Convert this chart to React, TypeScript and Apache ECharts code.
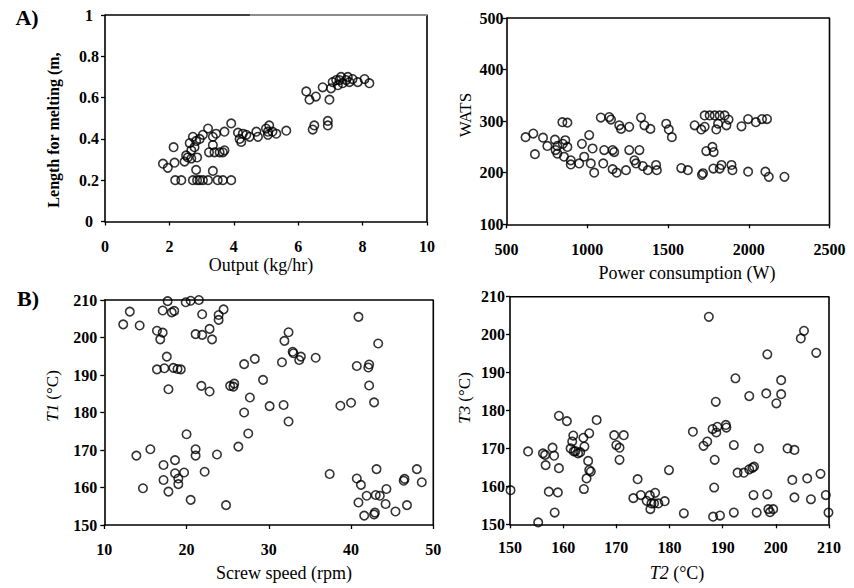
import React, { useEffect, useRef } from 'react';
import * as echarts from 'echarts';

const FONT = 'Liberation Serif, Times New Roman, serif';

// Panel A-left: Output (kg/hr) vs Length for melting (m)
const meltData: [number, number][] = [
  [1.8, 0.28], [1.95, 0.26], [2.13, 0.36], [2.16, 0.285], [2.18, 0.2], [2.37, 0.2], [2.47, 0.29], [2.52, 0.32],
  [2.57, 0.31], [2.63, 0.38], [2.68, 0.345], [2.68, 0.305], [2.73, 0.41], [2.78, 0.36], [2.83, 0.39], [2.86, 0.31],
  [2.83, 0.25], [2.73, 0.2], [2.86, 0.2], [2.94, 0.2], [3.04, 0.2], [3.2, 0.2], [2.94, 0.4], [3.04, 0.42],
  [3.2, 0.45], [3.23, 0.335], [3.35, 0.41], [3.35, 0.37], [3.4, 0.335], [3.35, 0.245], [3.5, 0.2], [3.56, 0.335],
  [3.45, 0.425], [3.66, 0.335], [3.66, 0.2], [3.71, 0.345], [3.71, 0.435], [3.92, 0.475], [3.92, 0.2], [4.13, 0.43],
  [4.18, 0.4], [4.23, 0.385], [4.28, 0.425], [4.39, 0.42], [4.49, 0.41], [4.7, 0.435], [4.75, 0.41], [5.0, 0.45],
  [5.06, 0.435], [5.06, 0.42], [5.1, 0.465], [5.2, 0.435], [5.32, 0.425], [5.63, 0.44], [6.25, 0.63], [6.35, 0.59],
  [6.55, 0.605], [6.45, 0.445], [6.5, 0.465], [6.92, 0.487], [6.92, 0.465], [6.76, 0.65], [6.97, 0.59], [7.02, 0.645],
  [7.07, 0.675], [7.18, 0.685], [7.28, 0.685], [7.38, 0.67], [7.49, 0.685], [7.54, 0.7], [7.59, 0.675], [7.69, 0.69],
  [7.85, 0.675], [8.06, 0.69], [8.21, 0.67], [7.23, 0.66], [7.33, 0.7],
];

// Panel A-right: Power consumption (W) vs WATS
const powerData: [number, number][] = [
  [618, 269], [666, 276], [676, 236], [726, 268], [753, 252], [800, 264], [804, 244], [815, 252], [815, 237],
  [846, 298], [877, 297], [849, 256], [864, 263], [877, 250], [856, 231], [898, 224], [898, 216], [950, 218],
  [967, 256], [981, 231], [1012, 273], [1022, 218], [1033, 247], [1043, 200], [1084, 307], [1105, 244], [1099, 218],
  [1136, 308], [1147, 303], [1157, 244], [1167, 240], [1157, 207], [1182, 200], [1198, 292], [1209, 285], [1240, 205],
  [1260, 289], [1260, 244], [1292, 224], [1302, 218], [1323, 244], [1333, 307], [1344, 213], [1354, 292], [1375, 205],
  [1391, 285], [1426, 215], [1431, 205], [1489, 295], [1505, 284], [1524, 269], [1582, 209], [1623, 205], [1665, 292],
  [1706, 284], [1717, 199], [1727, 289], [1727, 311], [1737, 242], [1758, 311], [1775, 250], [1783, 240], [1781, 208],
  [1789, 311], [1799, 284], [1810, 295], [1820, 311], [1820, 208], [1831, 215], [1851, 311], [1862, 292], [1875, 303],
  [1893, 215], [1899, 205], [1955, 290], [1996, 304], [1996, 202], [2044, 298], [2082, 304], [2113, 304], [2103, 202],
  [2124, 192], [2221, 192], [1710, 196],
];

// Panel B-left: Screw speed (rpm) vs T1 (°C)
const screwData: [number, number][] = [
  [12.3, 203.5], [13.1, 206.9], [14.3, 203.2], [13.9, 168.5], [14.7, 159.8], [15.6, 170.2], [16.4, 201.8], [16.4, 191.5],
  [16.8, 199.5], [17.1, 201.3], [17.1, 207.2], [17.2, 166.0], [17.2, 162.0], [17.3, 191.8], [17.6, 194.9], [17.7, 209.7],
  [17.8, 186.2], [17.8, 158.9], [18.2, 206.7], [18.5, 207.1], [18.4, 191.9], [18.6, 167.3], [18.6, 163.8], [18.9, 191.6],
  [19.0, 162.4], [19.0, 160.9], [19.3, 191.5], [19.7, 164.0], [19.9, 209.4], [20.0, 174.2], [20.5, 209.8], [20.5, 156.7],
  [21.1, 200.9], [21.1, 170.2], [21.1, 168.5], [21.5, 210.0], [21.8, 187.1], [21.9, 206.2], [21.9, 200.7], [22.2, 164.2],
  [22.8, 202.3], [22.8, 185.6], [23.1, 199.5], [23.7, 168.8], [23.9, 206.0], [23.9, 204.7], [24.5, 207.5], [24.8, 155.3],
  [25.3, 187.1], [25.7, 186.9], [25.8, 187.7], [26.3, 170.9], [27.0, 180.0], [27.0, 192.9], [27.5, 174.4], [27.7, 184.0],
  [28.3, 194.3], [29.3, 188.7], [30.1, 181.7], [31.6, 193.4], [31.8, 182.0], [31.9, 199.1], [32.4, 201.4], [32.4, 177.6],
  [32.9, 196.2], [33.0, 195.8], [33.7, 194.0], [33.9, 194.9], [35.7, 194.6], [37.4, 163.6], [38.7, 181.8], [40.0, 182.6],
  [40.7, 162.4], [40.9, 205.5], [40.7, 192.4], [40.9, 156.0], [41.2, 160.7], [41.6, 152.5], [41.9, 157.8], [42.1, 192.0],
  [42.2, 192.8], [42.2, 187.2], [42.8, 182.7], [42.8, 152.8], [42.9, 153.3], [43.0, 158.0], [43.1, 164.9], [43.3, 198.4],
  [43.5, 157.8], [44.2, 155.6], [44.3, 159.6], [45.4, 153.6], [46.4, 161.8], [46.5, 162.3], [46.8, 155.3], [48.0, 164.9],
  [48.6, 161.4],
];

// Panel B-right: T2 (°C) vs T3 (°C)
const tempData: [number, number][] = [
  [150.1, 159.0], [153.4, 169.2], [155.3, 150.5], [156.2, 168.7], [156.6, 168.3], [156.7, 165.6], [157.3, 158.6],
  [158.0, 170.2], [158.3, 168.1], [158.4, 153.1], [159.0, 158.4], [159.2, 164.8], [159.2, 178.6], [160.7, 177.2],
  [161.4, 170.0], [161.7, 171.8], [161.9, 173.4], [162.0, 169.2], [162.3, 169.3], [162.8, 168.7], [163.2, 169.0],
  [163.8, 172.8], [163.9, 159.3], [164.0, 170.5], [164.4, 162.1], [164.7, 166.7], [164.9, 174.0], [164.9, 164.3],
  [165.2, 163.9], [166.3, 177.5], [169.6, 173.5], [170.0, 170.9], [170.6, 170.2], [170.6, 167.0], [171.4, 173.5],
  [173.2, 156.9], [174.0, 161.9], [174.6, 157.7], [175.7, 156.2], [176.3, 157.6], [176.4, 154.0], [176.6, 155.5],
  [177.1, 155.5], [177.3, 158.3], [177.9, 155.5], [179.1, 156.1], [179.9, 164.3], [182.7, 152.9], [184.4, 174.4],
  [186.4, 170.7], [187.1, 171.8], [187.4, 204.7], [188.1, 175.1], [188.2, 152.0], [188.4, 159.7], [188.5, 167.0],
  [188.7, 182.3], [188.8, 174.2], [189.0, 175.7], [189.5, 152.3], [190.6, 176.2], [190.7, 175.5], [192.1, 170.9],
  [192.1, 153.1], [192.4, 188.5], [192.8, 163.6], [194.0, 163.6], [195.0, 183.8], [195.0, 164.5], [195.6, 164.9],
  [195.9, 165.2], [195.8, 157.7], [196.4, 153.1], [196.8, 170.0], [198.2, 184.5], [198.4, 194.8], [198.4, 157.9],
  [198.6, 154.0], [198.9, 153.2], [199.5, 154.0], [200.1, 181.9], [201.0, 188.0], [201.0, 184.3], [202.2, 170.0],
  [203.1, 161.7], [203.5, 169.6], [203.5, 157.1], [204.7, 199.0], [205.3, 201.0], [205.9, 162.1], [206.6, 156.6],
  [207.6, 195.2], [208.4, 163.3], [209.4, 157.7], [209.9, 153.1],
];

const axisTitles = {
  a1x: 'Output (kg/hr)',
  a1y: 'Length for melting (m,',
  a2x: 'Power consumption (W)',
  a2y: 'WATS',
  b1x: 'Screw speed (rpm)',
  b1y: '{i|T1} (°C)',
  b2x: '{i|T2} (°C)',
  b2y: '{i|T3} (°C)',
};

// axis ranges [min, max, interval]
const xRanges: [number, number, number][] = [[0, 10, 2], [500, 2500, 500], [10, 50, 10], [150, 210, 10]];
const yRanges: [number, number, number][] = [[0, 1, 0.2], [100, 500, 100], [150, 210, 10], [150, 210, 10]];

// plot boxes [left, top, width, height]
const boxes: [number, number, number, number][] = [
  [105, 15, 322, 206.5],
  [506.5, 18, 323, 206.3],
  [104.3, 300, 329, 225],
  [510, 296.7, 319, 227.6],
];

const plainNum = (v: number) => String(Math.round(v * 1000) / 1000);

const richItalic = (size: number) => ({
  i: { fontStyle: 'italic', fontFamily: FONT, fontSize: size, color: '#000' },
});

function xAx(i: number, margin: number, extra: any = {}) {
  const [min, max, interval] = xRanges[i];
  return {
    type: 'value', gridIndex: i, min, max, interval, position: 'bottom',
    axisLine: { show: true, onZero: false, lineStyle: { color: '#000', width: 1.6 } },
    axisTick: { show: true, inside: false, length: 4, lineStyle: { color: '#000', width: 1.3 } },
    splitLine: { show: false },
    axisLabel: { color: '#000', fontFamily: FONT, fontWeight: 'bold', fontSize: 16, margin, formatter: plainNum },
    ...extra,
  };
}
function yAx(i: number, margin: number, align: string, extra: any = {}) {
  const [min, max, interval] = yRanges[i];
  return {
    type: 'value', gridIndex: i, min, max, interval, position: 'left',
    axisLine: { show: true, onZero: false, lineStyle: { color: '#000', width: 1.6 } },
    axisTick: { show: true, inside: false, length: 4, lineStyle: { color: '#000', width: 1.3 } },
    splitLine: { show: false },
    axisLabel: { color: '#000', fontFamily: FONT, fontWeight: 'bold', fontSize: 16, margin, align, formatter: plainNum },
    ...extra,
  };
}
function scat(i: number, data: [number, number][]) {
  return {
    type: 'scatter', xAxisIndex: i, yAxisIndex: i, data,
    symbol: 'circle', symbolSize: 8.5,
    itemStyle: { color: 'rgba(0,0,0,0)', borderColor: '#000', borderWidth: 1.6 },
    silent: true, z: 3,
  };
}
// top and right border of each plot, drawn through the axes' own scales
function frame(i: number) {
  const [x0, x1] = xRanges[i];
  const [y0, y1] = yRanges[i];
  return {
    type: 'line', xAxisIndex: i, yAxisIndex: i, silent: true, clip: false, z: 2,
    symbol: 'none', showSymbol: false,
    data: [[x0, y1], [x1, y1], [x1, y0]],
    lineStyle: { color: '#000', width: 1.6 },
  };
}
function title(text: string, x: number, y: number, rotated: boolean, size: number, weight: string) {
  return {
    type: 'text', x, y, rotation: rotated ? Math.PI / 2 : 0, z: 100,
    style: {
      text, fill: '#000', fontFamily: FONT, fontSize: size, fontWeight: weight,
      align: 'center', verticalAlign: 'middle',
    },
  };
}

export default function App() {
  const ref = useRef<HTMLDivElement>(null);
  useEffect(() => {
    document.body.style.margin = '0';
    const chart = echarts.init(ref.current!, null, { renderer: 'svg' });
    chart.setOption({
      animation: false,
      backgroundColor: '#fff',
      grid: boxes.map(([l, t, w, h]) => ({ left: l, top: t, width: w, height: h })),
      xAxis: [
        xAx(0, 17),
        xAx(1, 17),
        xAx(2, 16),
        xAx(3, 15, {
          name: axisTitles.b2x, nameLocation: 'middle', nameGap: 40,
          nameTextStyle: { color: '#000', fontFamily: FONT, fontSize: 18, padding: [0, 0, 0, 15], rich: richItalic(18) },
        }),
      ],
      yAxis: [
        yAx(0, 16, 'center'),
        yAx(1, 3, 'right'),
        yAx(2, 7, 'right', {
          name: axisTitles.b1y, nameLocation: 'middle', nameGap: 43,
          nameTextStyle: { color: '#000', fontFamily: FONT, fontSize: 17, padding: [0, 0, 0, 33], rich: richItalic(17) },
        }),
        yAx(3, 5, 'right', {
          name: axisTitles.b2y, nameLocation: 'middle', nameGap: 37,
          nameTextStyle: { color: '#000', fontFamily: FONT, fontSize: 17, padding: [0, 0, 0, 25], rich: richItalic(17) },
        }),
      ],
      series: [
        frame(0), frame(1), frame(2), frame(3),
        {
          type: 'line', xAxisIndex: 0, yAxisIndex: 0, silent: true, clip: false, z: 2.5,
          symbol: 'none', showSymbol: false,
          data: [[4.5, 1], [10, 1]],
          lineStyle: { color: '#8c8c8c', width: 1.8 },
        },
        scat(0, meltData), scat(1, powerData), scat(2, screwData), scat(3, tempData),
      ],
      graphic: [
        title('A)', 27, 17, false, 22, 'bold'),
        title('B)', 28, 298, false, 22, 'bold'),
        title(axisTitles.a1y, 53.5, 130, true, 16, 'bold'),
        title(axisTitles.a1x, 261, 265, false, 18, 'normal'),
        title(axisTitles.a2y, 465, 115, true, 17, 'normal'),
        title(axisTitles.a2x, 687, 273, false, 18, 'normal'),
        title(axisTitles.b1x, 284, 573, false, 18, 'normal'),
      ],
    });
    return () => chart.dispose();
  }, []);
  return (
    <div
      ref={ref}
      style={{ position: 'absolute', left: 0, top: 0, width: 854, height: 588, background: '#fff' }}
    />
  );
}
